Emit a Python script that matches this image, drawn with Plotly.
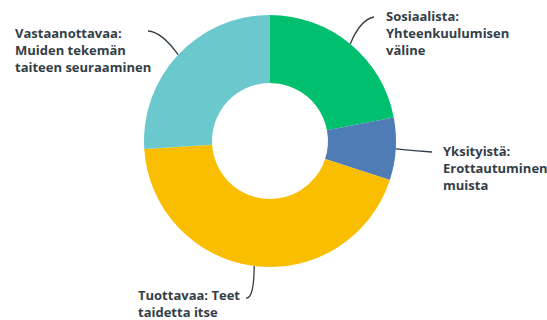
import math
import plotly.graph_objects as go

# Share of responses per way of engaging with art (percent), clockwise from 12 o'clock
categories = [
    "Sosiaalista: Yhteenkuulumisen väline",
    "Yksityistä: Erottautuminen muista",
    "Tuottavaa: Teet taidetta itse",
    "Vastaanottavaa: Muiden tekemän taiteen seuraaminen",
]
values = [22, 8, 44, 26]
label_lines = [
    ["Sosiaalista:", "Yhteenkuulumisen", "väline"],
    ["Yksityistä:", "Erottautuminen", "muista"],
    ["Tuottavaa: Teet", "taidetta itse"],
    ["Vastaanottavaa:", "Muiden tekemän", "taiteen seuraaminen"],
]
colors = ["#00BF6F", "#507CB6", "#F9BE00", "#6BC8CD"]

W, H = 547, 320
CX, CY, R = 270, 141, 126  # donut centre and outer radius in pixels
HOLE = 0.46

def px(x):
    return x / W

def py(y):
    return 1 - y / H

fig = go.Figure(go.Pie(
    labels=categories,
    values=values,
    sort=False,
    direction="clockwise",
    rotation=0,
    hole=HOLE,
    marker=dict(colors=colors, line=dict(width=0)),
    textinfo="none",
    hoverinfo="label+percent",
    showlegend=False,
    domain=dict(x=[px(CX - R), px(CX + R)], y=[py(CY + R), py(CY - R)]),
))

# Slice mid-angle anchors on the outer rim, derived from the values
total = sum(values)
anchors = []
acc = 0
for v in values:
    mid = (acc + v / 2) / total * 2 * math.pi
    anchors.append((CX + R * math.sin(mid), CY - R * math.cos(mid)))
    acc += v

# Label text placement (left x, vertical middle of block) and leader curve shape
label_pos = [(384, 33), (441, 168), (136, 303), (13, 50)]
leaders = [
    # (control point, end point) for a quadratic leader from the rim anchor
    ((360, 20), (374, 17)),
    ((414, 151), (432, 152)),
    ((254, 299), (246, 298)),
    ((162, 32), (148, 31)),
]

text_color = "#333E48"
annotations = []
shapes = []
for lines, (lx, ly), (a, (ctrl, end)) in zip(label_lines, label_pos, zip(anchors, leaders)):
    annotations.append(dict(
        text="<br>".join(lines),
        x=px(lx), y=py(ly), xref="paper", yref="paper",
        xanchor="left", yanchor="middle", align="left",
        showarrow=False,
        font=dict(family="Open Sans", size=13, color=text_color, weight="bold"),
    ))
    ax, ay = a
    path = "M {:.5f},{:.5f} Q {:.5f},{:.5f} {:.5f},{:.5f}".format(
        px(ax), py(ay), px(ctrl[0]), py(ctrl[1]), px(end[0]), py(end[1]))
    shapes.append(dict(type="path", path=path, xref="paper", yref="paper",
                       line=dict(color=text_color, width=1.3)))

fig.update_layout(
    width=W, height=H,
    margin=dict(l=0, r=0, t=0, b=0),
    paper_bgcolor="white",
    plot_bgcolor="white",
    annotations=annotations,
    shapes=shapes,
)

fig.write_html("out.html")
